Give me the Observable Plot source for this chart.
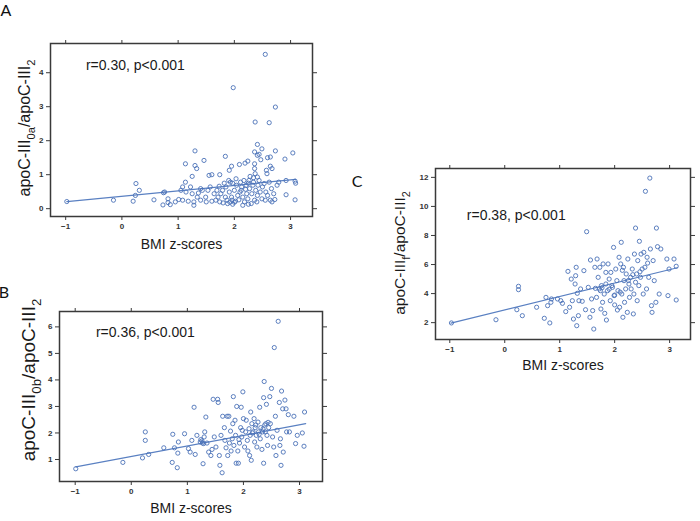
<!DOCTYPE html>
<html>
<head>
<meta charset="utf-8">
<script src="https://cdn.jsdelivr.net/npm/d3@7"></script>
<script src="https://cdn.jsdelivr.net/npm/@observablehq/plot@0.6"></script>
<style>
  html, body { margin: 0; padding: 0; background: #fff; }
  #wrap { position: relative; width: 700px; height: 521px; background: #fff; }
  #wrap svg.panel { position: absolute; }
</style>
</head>
<body>
<div id="wrap"></div>
<script>
// ---------- data ----------
const panelLetters = ["A", "B", "C"];
const xTicks = [-1, 0, 1, 2, 3];
const yTicksA = [0, 1, 2, 3, 4];
const yTicksB = [1, 2, 3, 4, 5, 6];
const yTicksC = [2, 4, 6, 8, 10, 12];
const xLabel = "BMI z-scores";
const annotA = ["r=0.30, p<0.001"];
const annotB = ["r=0.36, p<0.001"];
const annotC = ["r=0.38, p<0.001"];
const annotPosA = [-0.64, 4.21];
const annotPosB = [-0.63, 5.8];
const annotPosC = [-0.69, 9.37];

// regression lines (end points)
const fitA = [[-0.98, 0.21], [3.09, 0.86]];
const fitB = [[-0.99, 0.72], [3.11, 2.35]];
const fitC = [[-0.98, 1.97], [3.14, 5.78]];

const ptsA = [
[2.55,4.54],[1.98,3.56],[2.73,2.99],[2.37,2.55],[2.62,2.53],[2.41,1.89],[2.49,1.76],[2.36,1.67],[2.41,1.57],[2.44,1.6],
[2.59,1.5],[2.64,1.52],[2.73,1.7],[2.9,1.46],[3.04,1.64],[1.3,1.7],[1.13,1.32],[1.3,1.27],[1.33,1.18],[1.46,1.42],
[1.84,1.54],[1.95,1.25],[1.91,1.13],[2.09,1.3],[2.19,1.34],[2.24,1.4],[2.36,1.32],[2.47,1.44],[2.36,1.18],[2.57,1.13],
[2.64,1.25],[2.67,1.18],[2.58,1.03],[1.55,0.98],[1.6,1.0],[1.74,1.0],[1.25,0.95],[2.92,0.83],[3.08,0.81],[3.09,0.75],
[2.92,0.41],[3.08,0.26],[-0.98,0.21],[-0.15,0.25],[0.2,0.22],[0.25,0.74],[0.24,0.39],[0.31,0.54],[0.57,0.26],[0.73,0.11],
[0.74,0.47],[0.76,0.49],[0.82,0.29],[0.82,0.18],[0.86,0.12],[0.95,0.2],[1.01,0.27],[1.05,0.54],[1.08,0.64],[1.08,0.25],
[1.13,0.78],[1.14,0.49],[1.18,0.22],[1.22,0.64],[1.25,0.44],[1.28,0.2],[1.28,0.1],[1.34,0.34],[1.36,0.46],[1.4,0.59],
[1.43,0.54],[1.49,0.34],[1.53,0.54],[1.57,0.64],[1.6,0.22],[1.64,0.44],[1.69,0.54],[1.73,0.66],[1.74,0.2],[1.76,0.44],
[1.79,0.54],[1.82,0.75],[1.84,0.34],[1.85,0.64],[1.87,0.25],[1.88,0.15],[1.91,0.49],[1.93,0.78],[1.95,0.34],[1.96,0.25],
[1.97,0.13],[2.0,0.54],[2.02,0.22],[2.04,0.69],[2.06,0.39],[2.08,0.26],[2.11,0.78],[2.12,0.54],[2.13,0.64],[2.15,0.34],
[2.17,0.83],[2.18,0.2],[2.21,0.69],[2.22,0.44],[2.24,0.29],[2.25,0.75],[2.27,0.59],[2.28,0.95],[2.3,0.15],[2.31,0.44],
[2.33,0.69],[2.34,0.78],[2.36,0.25],[2.37,1.03],[2.38,0.54],[2.4,0.2],[2.41,0.39],[2.42,0.69],[2.44,0.83],[2.46,0.49],
[2.49,0.29],[2.5,0.64],[2.53,0.74],[2.55,0.25],[2.56,0.49],[2.59,0.39],[2.62,0.78],[2.64,0.25],[2.66,0.59],[2.67,0.2],
[2.7,0.44],[2.72,0.27],[2.76,0.69],[2.79,0.78],[1.9,0.83],[1.97,0.75],[2.03,0.88],[2.1,0.49],[2.2,0.57],[2.26,0.83],
[2.34,0.91],[2.41,0.93],[1.71,0.34],[1.67,0.25],[1.5,0.2],[1.4,0.25],[1.8,0.17],[1.92,0.19],[2.0,0.19],[2.15,0.1],
[2.25,0.13]
];

const ptsB = [
[-0.99,0.65],[-0.15,0.89],[0.2,1.06],[0.25,2.04],[0.25,1.72],[0.31,1.19],[0.58,1.44],[0.73,0.89],[0.74,1.95],[0.77,1.44],
[0.82,0.69],[0.83,1.24],[0.84,1.66],[0.95,1.97],[1.02,1.41],[1.05,1.28],[1.08,1.72],[1.12,2.97],[1.14,1.19],[1.17,1.91],
[1.23,1.66],[1.24,1.75],[1.27,1.62],[1.28,0.84],[1.3,1.85],[1.31,2.04],[1.33,2.6],[1.35,1.62],[1.38,1.28],[1.42,1.15],
[1.44,1.38],[1.46,3.27],[1.48,1.85],[1.51,1.47],[1.54,3.27],[1.55,3.15],[1.57,1.15],[1.58,0.78],[1.6,1.91],[1.62,0.5],
[1.63,2.63],[1.66,2.2],[1.67,1.72],[1.69,1.44],[1.71,2.63],[1.72,1.15],[1.74,2.63],[1.75,1.62],[1.77,2.07],[1.78,1.32],
[1.8,1.78],[1.81,2.35],[1.82,3.37],[1.83,1.53],[1.85,2.48],[1.86,1.91],[1.87,0.86],[1.88,3.0],[1.9,1.32],[1.91,0.86],
[1.93,1.62],[1.95,2.2],[1.96,2.97],[1.97,1.85],[1.99,3.55],[2.0,2.54],[2.02,1.47],[2.04,2.04],[2.05,2.48],[2.07,1.72],
[2.08,1.32],[2.1,2.16],[2.11,1.15],[2.12,1.91],[2.13,2.79],[2.14,0.97],[2.15,2.35],[2.17,2.04],[2.19,2.54],[2.2,1.66],
[2.21,2.2],[2.23,1.91],[2.24,1.47],[2.26,2.41],[2.27,2.04],[2.29,2.97],[2.3,1.78],[2.31,2.2],[2.33,1.38],[2.34,2.04],
[2.36,3.33],[2.36,0.86],[2.37,3.94],[2.39,2.04],[2.4,2.35],[2.41,3.08],[2.42,1.91],[2.43,1.53],[2.45,2.2],[2.47,3.37],
[2.48,2.35],[2.5,3.68],[2.52,1.85],[2.54,1.47],[2.55,5.22],[2.57,2.63],[2.58,1.15],[2.6,2.1],[2.62,6.21],[2.64,3.15],
[2.65,1.53],[2.66,1.78],[2.67,0.78],[2.68,3.58],[2.7,2.91],[2.71,1.28],[2.74,3.24],[2.76,2.91],[2.77,2.04],[2.8,2.69],
[2.82,2.04],[2.9,2.63],[2.93,1.6],[2.96,1.91],[3.05,2.0],[3.08,1.5],[3.09,2.79],
[1.26,1.7],[1.29,1.6],[1.98,2.1],[2.16,2.0],[2.22,2.3],[2.28,1.95],[2.35,2.15],[2.38,2.3],[2.44,2.4],[1.92,1.75]
];

const ptsC = [
[-0.97,1.98],[-0.16,2.2],[0.22,2.89],[0.25,4.5],[0.25,4.27],[0.32,2.48],[0.58,3.06],[0.72,2.3],[0.75,3.74],[0.78,3.17],
[0.82,1.98],[0.84,3.4],[0.85,3.63],[0.96,3.63],[1.02,3.51],[1.05,3.33],[1.11,2.76],[1.15,5.53],[1.18,3.06],[1.21,5.0],
[1.23,3.51],[1.25,2.25],[1.28,4.66],[1.29,5.23],[1.3,5.81],[1.31,1.79],[1.32,4.02],[1.34,2.48],[1.35,3.51],[1.38,4.32],
[1.41,3.47],[1.44,5.58],[1.47,2.89],[1.49,8.26],[1.52,4.43],[1.55,2.37],[1.56,6.31],[1.58,3.63],[1.6,2.83],[1.62,1.56],
[1.64,5.81],[1.65,4.36],[1.67,3.74],[1.68,6.38],[1.7,5.12],[1.72,4.32],[1.73,5.81],[1.75,2.94],[1.76,4.55],[1.78,3.4],
[1.79,6.04],[1.81,3.97],[1.82,2.64],[1.84,5.46],[1.84,4.66],[1.85,2.18],[1.87,4.2],[1.88,6.04],[1.9,5.0],[1.92,3.51],
[1.93,5.46],[1.95,4.55],[1.96,4.43],[1.98,7.18],[1.99,3.86],[2.0,3.22],[2.02,5.69],[2.04,4.89],[2.05,2.87],[2.06,4.2],
[2.08,6.5],[2.09,3.06],[2.11,6.04],[2.12,7.53],[2.13,3.97],[2.15,2.37],[2.16,5.81],[2.17,4.89],[2.18,3.4],[2.2,4.32],
[2.21,5.35],[2.23,2.71],[2.24,6.38],[2.26,4.66],[2.27,3.74],[2.29,5.12],[2.3,4.32],[2.32,5.69],[2.34,2.6],[2.35,3.97],
[2.36,6.72],[2.38,8.51],[2.38,4.78],[2.4,5.35],[2.41,3.51],[2.42,6.27],[2.44,4.55],[2.45,7.6],[2.47,5.12],[2.48,6.72],
[2.5,5.69],[2.52,3.97],[2.53,6.84],[2.55,5.81],[2.56,11.04],[2.58,4.32],[2.59,6.5],[2.62,5.12],[2.64,11.95],[2.65,7.07],
[2.67,3.17],[2.68,2.71],[2.7,6.27],[2.72,4.89],[2.75,3.4],[2.76,8.51],[2.78,7.23],[2.81,3.97],[2.84,7.07],[2.95,6.38],
[2.97,3.86],[2.99,5.69],[3.08,6.38],[3.12,5.88],[3.12,3.56],
[1.74,4.2],[1.77,4.4],[2.1,4.1],[2.25,4.9],[2.33,5.3],[2.46,5.5],[2.6,6.1],[2.14,5.6],[1.9,4.3],[2.0,3.9]
];

// ---------- drawing ----------
const BLUE = "#4b72b8";
const LINE = "#5a80c2";
const FRAME = "#3a3a3a";
const FONT = "'Liberation Sans', Arial, sans-serif";

function panel(o) {
  const pts = o.pts.map(([x, y]) => ({x, y}));
  const fit = o.fit.map(([x, y]) => ({x, y}));
  const ann = [{x: o.annPos[0], y: o.annPos[1], t: o.ann[0]}];
  const svg = Plot.plot({
    width: o.w, height: o.h,
    marginLeft: o.ml, marginRight: o.mr, marginTop: o.mt, marginBottom: o.mb,
    x: {domain: o.xDomain},
    y: {domain: o.yDomain},
    style: {fontFamily: FONT, fontSize: "8px", color: "#333", background: "transparent", overflow: "visible"},
    marks: [
      Plot.axisX(xTicks, {anchor: "bottom", tickSize: 4, tickPadding: 3, label: null, fontWeight: "bold", stroke: FRAME}),
      Plot.axisX(xTicks, {anchor: "top", tickSize: 4, tickFormat: () => "", label: null, stroke: FRAME}),
      Plot.axisY(o.yTicks, {anchor: "left", tickSize: 4, tickPadding: 3, label: null, fontWeight: "bold", stroke: FRAME}),
      Plot.axisY(o.yTicks, {anchor: "right", tickSize: 4, tickFormat: () => "", label: null, stroke: FRAME}),
      Plot.line(fit, {x: "x", y: "y", stroke: LINE, strokeWidth: 1.2}),
      Plot.dot(pts, {x: "x", y: "y", r: 2.1, stroke: BLUE, strokeWidth: 0.9, fill: "none"}),
      Plot.text(ann, {x: "x", y: "y", text: "t", textAnchor: "start", fontSize: 14, fill: "#1a1a1a"}),
      Plot.text([xLabel], {frameAnchor: "bottom", dy: o.xlabDy, fontSize: 14, fill: "#1a1a1a"}),
      Plot.frame({stroke: FRAME, strokeWidth: 1.5})
    ]
  });
  svg.classList.add("panel");
  svg.style.left = o.left + "px";
  svg.style.top = o.top + "px";
  const s = d3.select(svg);
  // panel letter
  s.append("text")
    .attr("x", o.letterPos[0]).attr("y", o.letterPos[1])
    .attr("font-family", "Lato, 'Open Sans', sans-serif")
    .attr("font-size", 16).attr("fill", "#111")
    .text(o.letter);
  // y label with subscripts
  const t = s.append("text")
    .attr("transform", `translate(${o.ylab[0]},${o.ylab[1]}) rotate(-90)`)
    .attr("text-anchor", "middle")
    .attr("font-family", FONT)
    .attr("font-size", o.ylabSize)
    .attr("fill", "#1a1a1a");
  let shifted = false;
  const sh = o.ylabSize * 0.3;
  o.ylabParts.forEach(([str, sub]) => {
    const ts = t.append("tspan").text(str);
    if (sub) {
      ts.attr("font-size", o.ylabSize * 0.7);
      if (!shifted) { ts.attr("dy", sh); shifted = true; }
    } else {
      ts.attr("font-size", o.ylabSize);
      if (shifted) { ts.attr("dy", -sh); shifted = false; }
    }
  });
  document.getElementById("wrap").appendChild(svg);
}

panel({
  letter: panelLetters[0], letterPos: [6, 16],
  pts: ptsA, fit: fitA, ann: annotA, annPos: annotPosA, yTicks: yTicksA,
  xDomain: [-1.27, 3.39], yDomain: [-0.23, 4.86],
  left: 0, top: 0, w: 330, h: 260, ml: 50, mr: 18, mt: 43, mb: 44,
  xlabDy: 32, ylab: [30, 128], ylabSize: 16,
  ylabParts: [["apoC-III", 0], ["0a", 1], ["/apoC-III", 0], ["2", 1]]
});
panel({
  letter: panelLetters[1], letterPos: [4, 38],
  pts: ptsB, fit: fitB, ann: annotB, annPos: annotPosB, yTicks: yTicksB,
  xDomain: [-1.28, 3.41], yDomain: [0.17, 6.58],
  left: 0, top: 260, w: 330, h: 261, ml: 59, mr: 8, mt: 51, mb: 40,
  xlabDy: 31.5, ylab: [35, 120], ylabSize: 19,
  ylabParts: [["apoC-III", 0], ["0b", 1], ["/apoC-III", 0], ["2", 1]]
});
panel({
  letter: panelLetters[2], letterPos: [17, 67],
  pts: ptsC, fit: fitC, ann: annotC, annPos: annotPosC, yTicks: yTicksC,
  xDomain: [-1.26, 3.38], yDomain: [0.84, 12.61],
  left: 340, top: 120, w: 360, h: 260, ml: 95, mr: 10, mt: 48, mb: 41,
  xlabDy: 30, ylab: [65, 133], ylabSize: 15.5,
  ylabParts: [["apoC-III", 0], ["f", 1], ["/apoC-III", 0], ["2", 1]]
});
</script>
</body>
</html>
